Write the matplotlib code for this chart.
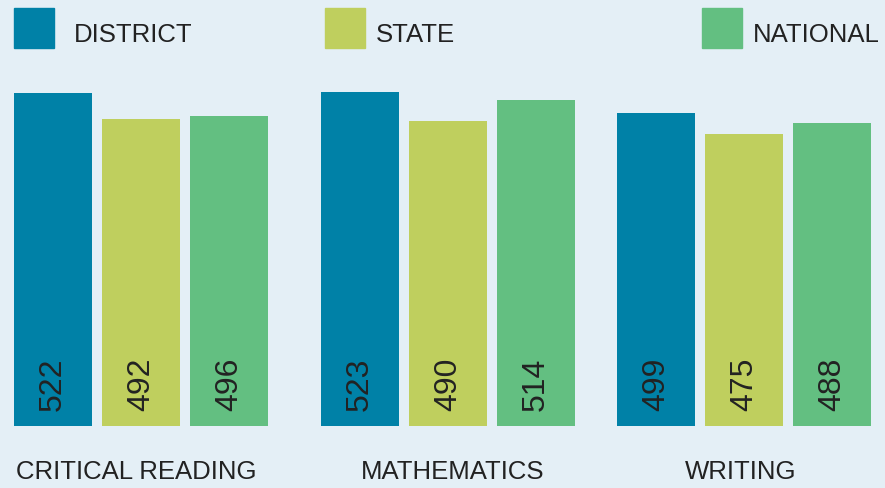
import matplotlib
matplotlib.use("Agg")
import matplotlib.pyplot as plt
import numpy as np

subjects = ['CRITICAL READING', 'MATHEMATICS', 'WRITING']
series = ['DISTRICT', 'STATE', 'NATIONAL']
district = [522, 523, 499]
state = [492, 490, 475]
national = [496, 514, 488]

colors = ['#0081a7', '#bfcf5e', '#63bf81']
bg = '#e4eff6'
txt = '#222222'

plt.rcParams['font.family'] = ['Liberation Sans', 'DejaVu Sans']

fig = plt.figure(figsize=(8.85, 4.89), dpi=100, facecolor=bg)
ax = fig.add_axes([0, 1 - 427 / 489, 1, 427 / 489])
ax.set_facecolor(bg)

group_x = np.array([0, 3.49, 6.85])
width = 0.886
values = [district, state, national]
for i, vals in enumerate(values):
    x = group_x + i
    ax.bar(x, vals, width=width, color=colors[i])
    for xi, v in zip(x, vals):
        ax.text(xi, 160, str(v), rotation=90, ha='center', va='bottom',
                fontsize=23, color=txt)

ax.set_ylim(142, 629)
ax.set_xlim(-0.602, 9.455)
ax.axis('off')

# category labels under each group
label_x = [136, 453, 741]
for name, px in zip(subjects, label_x):
    fig.text(px / 885, 1 - 472 / 489, name, ha='center', va='center',
             fontsize=18.5, color=txt)

# legend along the top
leg_x = [14, 325, 702]
leg_gap = [60, 51, 51]
for i, name in enumerate(series):
    fig.patches.append(plt.Rectangle((leg_x[i] / 885, 1 - 49 / 489), 40 / 885, 40 / 489,
                                     transform=fig.transFigure, color=colors[i]))
    fig.text((leg_x[i] + 40 + leg_gap[i] - 40) / 885 + 0, 1 - 35 / 489, name,
             ha='left', va='center', fontsize=18.5, color=txt)

fig.savefig('out.png', dpi=100, facecolor=bg)
